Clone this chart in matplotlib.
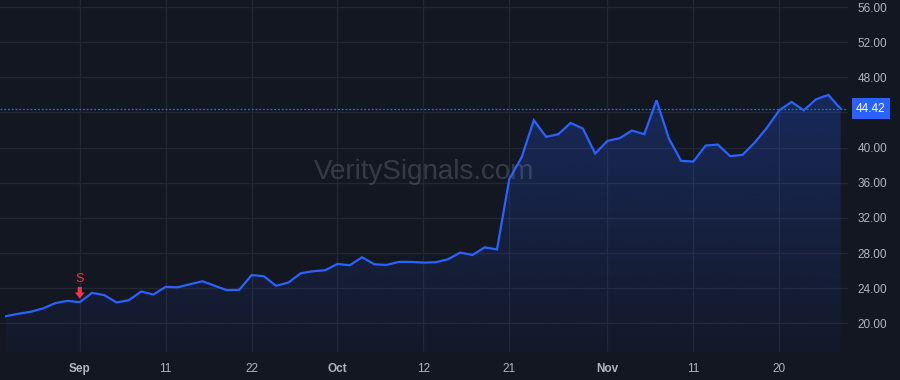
import numpy as np
import matplotlib
matplotlib.use('Agg')
import matplotlib.pyplot as plt
import matplotlib.transforms as mtransforms
from matplotlib.patches import Polygon

# Tagesschlusskurse (Handelstage, 24. Aug - 30. Nov)
prices = [20.83, 21.10, 21.33, 21.70, 22.31, 22.57,
          22.42, 23.48, 23.22, 22.38, 22.65, 23.63, 23.29,
          24.16, 24.12, 24.46, 24.80, 24.28, 23.78, 23.82,
          25.50, 25.37, 24.28, 24.65, 25.71, 25.94, 26.05,
          26.77, 26.62, 27.53, 26.73, 26.66, 27.00, 27.00,
          26.92, 26.96, 27.30, 28.06, 27.79, 28.66, 28.42,
          36.42, 38.88, 43.12, 41.23, 41.53, 42.81, 42.17, 39.33,
          40.77, 41.08, 41.95, 41.53, 45.39, 41.06, 38.50,
          38.42, 40.24, 40.35, 39.03, 39.18, 40.58, 42.28,
          44.25, 45.20, 44.25, 45.51, 46.00, 44.42]

tick_pos = [6, 13, 20, 27, 34, 41, 49, 56, 63]
tick_labels = ['Sep', '11', '22', 'Oct', '12', '21', 'Nov', '11', '20']
month_labels = ['Sep', 'Oct', 'Nov']
y_ticks = [20, 24, 28, 32, 36, 40, 44, 48, 52, 56]

sell_idx = 6   # Verkaufssignal "S"

bg = '#131722'
blue = '#2962ff'
txt = '#b2b5be'

plt.rcParams['font.family'] = ['Liberation Sans', 'DejaVu Sans']

x = np.arange(len(prices))
y = np.array(prices)
last = prices[-1]

fig = plt.figure(figsize=(9, 3.8), dpi=100, facecolor=bg)
ax = fig.add_axes([0, 28 / 380, 848 / 900, 1 - 28 / 380])
ax.set_facecolor(bg)

ylo, yhi = 16.75, 56.8
xlo, xhi = -0.5, len(prices) - 1 + 0.6

# Verlaufsfüllung unter der Linie
verts = np.vstack([[x[0], ylo], np.column_stack([x, y]), [x[-1], ylo]])
clip = Polygon(verts, closed=True, transform=ax.transData, fc='none', ec='none')
ax.add_patch(clip)
n = 256
alpha = np.linspace(0.03, 0.25, n)
rgb = matplotlib.colors.to_rgb(blue)
grad = np.zeros((n, 1, 4))
grad[:, 0, :3] = rgb
grad[:, 0, 3] = alpha
im = ax.imshow(grad, extent=[x[0], x[-1], ylo, y.max()], aspect='auto',
               origin='lower', zorder=1, interpolation='bicubic')
im.set_clip_path(clip)

ax.plot(x, y, color=blue, lw=1.6, zorder=3, solid_joinstyle='miter')
ax.axhline(last, color=blue, lw=0.9, ls=(0, (1.5, 1.5)), zorder=2)

ax.set_xlim(xlo, xhi)
ax.set_ylim(ylo, yhi)

# Gitter
ax.set_xticks(tick_pos)
ax.set_yticks(y_ticks)
ax.grid(True, color='#232733', lw=0.9, zorder=0)
ax.set_axisbelow(True)
for s in ax.spines.values():
    s.set_visible(False)

ax.yaxis.tick_right()
# 44.00 liegt unter dem Preisschild
ax.set_yticklabels(['' if v == 44 else f'{v:.2f}' for v in y_ticks])
ax.set_xticklabels(tick_labels)
ax.tick_params(axis='both', length=0, colors=txt, labelsize=8.5)
ax.tick_params(axis='y', pad=7)
ax.tick_params(axis='x', pad=8)
for lab in ax.get_xticklabels():
    if lab.get_text() in month_labels:
        lab.set_fontweight('bold')

# Preisschild rechts
trans = mtransforms.blended_transform_factory(ax.transAxes, ax.transData)
ax.text(1.027, last, f'{last:.2f}', transform=trans, ha='center', va='center',
        color='white', fontsize=8.5, clip_on=False, zorder=5,
        bbox=dict(boxstyle='square,pad=0.38', fc=blue, ec='none'))

# Verkaufssignal
sy = prices[sell_idx]
ax.annotate('', xy=(sell_idx, sy), xytext=(0, 11), textcoords='offset points',
            arrowprops=dict(arrowstyle='simple,head_width=0.7,head_length=0.45,tail_width=0.3',
                            fc='#f23645', ec='none', shrinkA=0, shrinkB=2.5), zorder=4)
ax.annotate('S', xy=(sell_idx, sy), xytext=(0, 12), textcoords='offset points',
            ha='center', va='bottom', color='#f23645', fontsize=9, zorder=4)

# Wasserzeichen
ax.text(0.5, 0.51, 'VeritySignals.com', transform=ax.transAxes, ha='center', va='center',
        fontsize=20, color='#8a8e99', alpha=0.3, zorder=2)

fig.savefig('out.png', dpi=100, facecolor=bg)
